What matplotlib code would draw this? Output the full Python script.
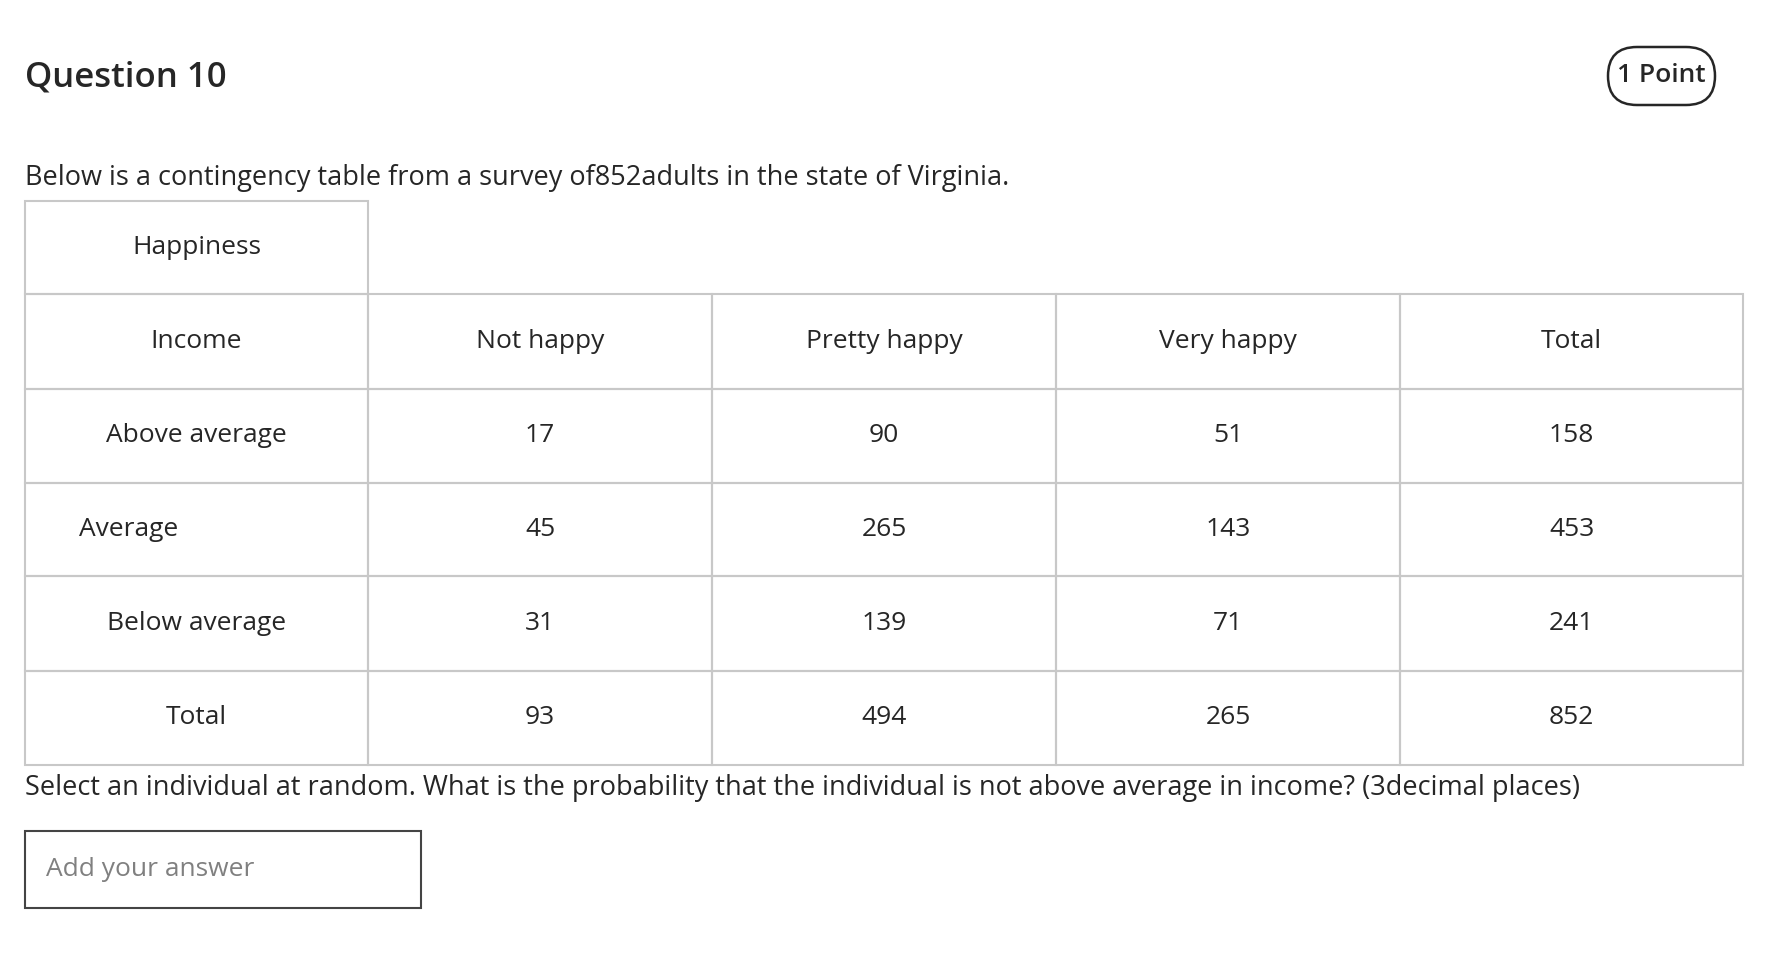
import matplotlib
matplotlib.use("Agg")
import matplotlib.pyplot as plt
from matplotlib.patches import FancyBboxPatch, Rectangle

plt.rcParams['font.family'] = ['Open Sans', 'DejaVu Sans']

# ----------------------------
# Data
# ----------------------------
title = "Question 10"
points = "1 Point"
intro = "Below is a contingency table from a survey of852adults in the state of Virginia."
corner = "Happiness"
col_labels = ["Income", "Not happy", "Pretty happy", "Very happy", "Total"]
row_labels = ["Above average", "Average", "Below average", "Total"]
not_happy = [17, 45, 31, 93]
pretty_happy = [90, 265, 139, 494]
very_happy = [51, 143, 71, 265]
totals = [158, 453, 241, 852]
question = ("Select an individual at random. What is the probability that the individual "
            "is not above average in income? (3decimal places)")
placeholder = "Add your answer"

W, H = 1768, 960
fig = plt.figure(figsize=(W / 100, H / 100), dpi=100)
ax = fig.add_axes([0, 0, 1, 1])
ax.set_xlim(0, W)
ax.set_ylim(H, 0)
ax.axis("off")

txt = "#262626"
grid = "#c8c8c8"

ax.text(25, 77, title, fontsize=25, fontweight="semibold", color=txt, va="center")
ax.add_patch(FancyBboxPatch((1608, 47), 107, 58, boxstyle="round,pad=0,rounding_size=29",
                            fill=False, ec=txt, lw=1.8))
ax.text(1661, 76, points, fontsize=19, fontweight="semibold", color=txt, ha="center", va="center")
ax.text(25, 178, intro, fontsize=19.5, color=txt, va="center")

# table geometry
xs = [25, 368, 712, 1056, 1400, 1743]
ys = [201, 294, 389, 483, 576, 671, 765]

# header cell
ax.add_patch(Rectangle((xs[0], ys[0]), xs[1] - xs[0], ys[1] - ys[0], fill=False, ec=grid, lw=1.5))
ax.text((xs[0] + xs[1]) / 2, (ys[0] + ys[1]) / 2, corner, fontsize=19, color=txt, ha="center", va="center")

body = [col_labels] + [[r, a, b, c, d] for r, a, b, c, d in
                       zip(row_labels, not_happy, pretty_happy, very_happy, totals)]
for i, row in enumerate(body):
    y0, y1 = ys[i + 1], ys[i + 2]
    for j, val in enumerate(row):
        x0, x1 = xs[j], xs[j + 1]
        ax.add_patch(Rectangle((x0, y0), x1 - x0, y1 - y0, fill=False, ec=grid, lw=1.5))
        if j == 0 and val == "Average":
            ax.text(79, (y0 + y1) / 2, val, fontsize=19, color=txt, va="center")
        else:
            ax.text((x0 + x1) / 2, (y0 + y1) / 2, str(val), fontsize=19, color=txt,
                    ha="center", va="center")

ax.text(25, 788, question, fontsize=19.5, color=txt, va="center")

ax.add_patch(Rectangle((25, 831), 396, 77, fill=False, ec="#444444", lw=1.5))
ax.text(46, 869, placeholder, fontsize=19, color="#808080", va="center")

fig.savefig("out.png", dpi=100)
